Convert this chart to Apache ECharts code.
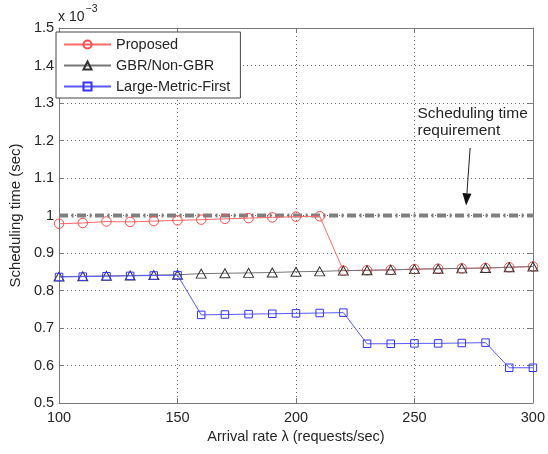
<!DOCTYPE html>
<html><head><meta charset="utf-8">
<script src="https://cdn.jsdelivr.net/npm/echarts@6.0.0/dist/echarts.min.js"></script>
<style>html,body{margin:0;padding:0;background:#fff}#c{width:548px;height:454px}</style>
</head><body><div id="c"></div>
<script>
// Data (scheduling time in units of 1e-3 sec)
const arrivalRates = [100,110,120,130,140,150,160,170,180,190,200,210,220,230,240,250,260,270,280,290,300];
const proposed     = [0.978,0.980,0.984,0.983,0.985,0.987,0.989,0.991,0.993,0.995,0.997,0.998,0.853,0.854,0.855,0.857,0.858,0.859,0.860,0.862,0.864];
const gbrNonGbr    = [0.837,0.838,0.839,0.840,0.841,0.842,0.845,0.846,0.847,0.848,0.850,0.851,0.853,0.854,0.855,0.857,0.858,0.859,0.860,0.862,0.864];
const largeMetric  = [0.836,0.837,0.838,0.839,0.840,0.841,0.735,0.736,0.737,0.738,0.739,0.740,0.741,0.658,0.658,0.659,0.659,0.660,0.661,0.594,0.594];
const requirementX = [100,300];
const requirementY = [1.0,1.0];
const seriesNames  = ['Proposed','GBR/Non-GBR','Large-Metric-First'];
const xTickValues  = [100,150,200,250,300];
const yTickValues  = [0.5,0.6,0.7,0.8,0.9,1.0,1.1,1.2,1.3,1.4,1.5];
const annotationText = ['Scheduling time','requirement'];

const FONT = 'Liberation Sans, Arial, sans-serif';
const FS = 14.5;
const chart = echarts.init(document.getElementById('c'), null, {renderer:'canvas'});
const zip = (xs, ys) => xs.map((x,i)=>[x, ys[i]]);
const axisCol = '#7a7a7a';
const txtCol = '#262626';
const gridLineStyle = {type:[1,3], color:'#666', width:1};

const option = {
  animation:false,
  backgroundColor:'#fff',
  textStyle:{fontFamily:FONT},
  grid:{left:57, right:15, top:28, bottom:51, containLabel:false},
  legend:{
    data:seriesNames, orient:'vertical', left:56, top:32,
    backgroundColor:'#fff', borderColor:'#444', borderWidth:1, borderRadius:0,
    padding:[5,10,4,7], itemWidth:47, itemHeight:10, itemGap:6,
    textStyle:{fontSize:FS, color:txtCol, fontFamily:FONT}
  },
  xAxis:[{
    type:'value', min:xTickValues[0], max:xTickValues[xTickValues.length-1], interval:xTickValues[1]-xTickValues[0],
    position:'bottom',
    name:'Arrival rate \u03bb (requests/sec)', nameLocation:'middle', nameGap:26,
    nameTextStyle:{fontSize:FS, color:txtCol, fontFamily:FONT},
    axisLine:{show:true, lineStyle:{color:axisCol}},
    axisTick:{show:true, inside:true, length:5, lineStyle:{color:axisCol}},
    axisLabel:{fontSize:FS, color:txtCol, margin:7, fontFamily:FONT},
    splitLine:{show:true, lineStyle:gridLineStyle}
  },{
    type:'value', min:xTickValues[0], max:xTickValues[xTickValues.length-1], interval:xTickValues[1]-xTickValues[0],
    position:'top',
    axisLine:{show:true, lineStyle:{color:axisCol}},
    axisTick:{show:true, inside:true, length:5, lineStyle:{color:axisCol}},
    axisLabel:{show:false}, splitLine:{show:false}
  }],
  yAxis:[{
    type:'value', min:yTickValues[0], max:yTickValues[yTickValues.length-1], interval:0.1,
    position:'left',
    name:'Scheduling time (sec)', nameLocation:'middle', nameGap:30,
    nameTextStyle:{fontSize:15, color:txtCol, fontFamily:FONT},
    axisLine:{show:true, lineStyle:{color:axisCol}},
    axisTick:{show:true, inside:true, length:5, lineStyle:{color:axisCol}},
    axisLabel:{fontSize:FS, color:txtCol, margin:5, fontFamily:FONT,
      formatter:v=>String(parseFloat(v.toFixed(1)))},
    splitLine:{show:true, lineStyle:gridLineStyle}
  },{
    type:'value', min:yTickValues[0], max:yTickValues[yTickValues.length-1], interval:0.1,
    position:'right',
    axisLine:{show:true, lineStyle:{color:axisCol}},
    axisTick:{show:true, inside:true, length:5, lineStyle:{color:axisCol}},
    axisLabel:{show:false}, splitLine:{show:false}
  }],
  series:[
    {
      name:'requirement', type:'line', data:zip(requirementX, requirementY),
      symbol:'none', z:3, silent:true,
      lineStyle:{color:'#808080', width:4, type:[9,3.5,2,3.5], cap:'butt'}
    },
    {
      name:seriesNames[0], type:'line', data:zip(arrivalRates, proposed),
      symbol:'circle', symbolSize:9.5, z:4,
      itemStyle:{color:'rgba(255,255,255,0)', borderColor:'#ff4d4d', borderWidth:1},
      lineStyle:{color:'#ff6b6b', width:1}
    },
    {
      name:seriesNames[1], type:'line', data:zip(arrivalRates, gbrNonGbr),
      symbol:'triangle', symbolSize:[10,9], z:5,
      itemStyle:{color:'rgba(255,255,255,0)', borderColor:'#333', borderWidth:1},
      lineStyle:{color:'#777', width:1}
    },
    {
      name:seriesNames[2], type:'line', data:zip(arrivalRates, largeMetric),
      symbol:'rect', symbolSize:7.5, z:6,
      itemStyle:{color:'rgba(255,255,255,0)', borderColor:'#3333ff', borderWidth:1},
      lineStyle:{color:'#5a5aff', width:1}
    }
  ]
};
chart.setOption(option);

// Annotations positioned from data coordinates
const p = (x,y)=>chart.convertToPixel({gridIndex:0},[x,y]);
const tPos = p(251.3, 1.295);
const aStart = p(273.5, 1.18);
const aTip = p(271.8, 1.027);
const dx = aTip[0]-aStart[0], dy = aTip[1]-aStart[1];
const len = Math.sqrt(dx*dx+dy*dy), ux = dx/len, uy = dy/len;
const headLen = 12, headW = 4.5;
const base = [aTip[0]-ux*headLen, aTip[1]-uy*headLen];
const gridLeft = p(100,1.5);
chart.setOption({
  graphic:[
    {type:'text', left:gridLeft[0]-1, top:4, style:{
      text:'{a|x 10}{b|\u22123}', fill:txtCol, fontFamily:FONT,
      rich:{a:{fontSize:14, fontFamily:FONT, fill:txtCol, verticalAlign:'bottom', padding:[6,0,0,0]},
            b:{fontSize:10.5, fontFamily:FONT, fill:txtCol, verticalAlign:'top', padding:[0,0,6,1]}}
    }},
    {type:'text', x:tPos[0], y:tPos[1], z:10, style:{
      text:annotationText.join('\n'), fontSize:15.5, lineHeight:17, fill:txtCol, fontFamily:FONT
    }},
    {type:'line', z:10, shape:{x1:aStart[0], y1:aStart[1], x2:base[0], y2:base[1]}, style:{stroke:'#222', lineWidth:1}},
    {type:'polygon', z:10, shape:{points:[aTip, [base[0]-uy*headW, base[1]+ux*headW], [base[0]+uy*headW, base[1]-ux*headW]]}, style:{fill:'#111'}}
  ]
});
</script></body></html>
